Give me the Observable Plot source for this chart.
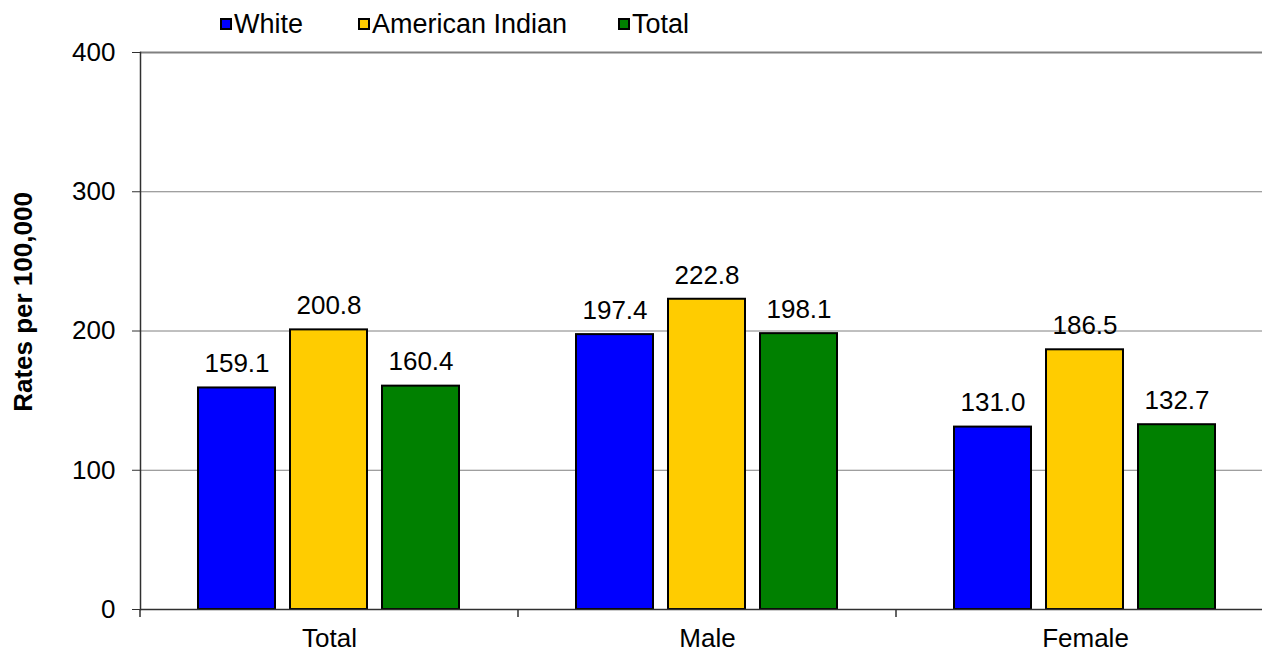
<!DOCTYPE html>
<html>
<head>
<meta charset="utf-8">
<script src="https://cdn.jsdelivr.net/npm/d3@7"></script>
<script src="https://cdn.jsdelivr.net/npm/@observablehq/plot@0.6"></script>
<style>
  html, body { margin: 0; padding: 0; background: #fff; }
  #wrap { position: relative; width: 1262px; height: 652px; overflow: hidden; font-family: "Liberation Sans", Arial, sans-serif; }
  #legend { position: relative; width: 1262px; height: 30px; }
  .item { position: absolute; top: 0; height: 48px; display: flex; align-items: center; font-size: 27px; color: #000; white-space: nowrap; }
  .sw { width: 12px; height: 12px; box-sizing: border-box; border: 2px solid #000; margin-right: 2px; }
  #chart svg { display: block; }
</style>
</head>
<body>
<div id="wrap">
  <div id="legend"></div>
  <div id="chart"></div>
</div>
<script>
// ---- data ----
const categories = ["Total", "Male", "Female"];
const seriesNames = ["White", "American Indian", "Total"];
const whiteValues = [159.1, 197.4, 131.0];
const americanIndianValues = [200.8, 222.8, 186.5];
const totalValues = [160.4, 198.1, 132.7];
const yTicks = [0, 100, 200, 300, 400];
const colors = ["#0000FF", "#FFCC00", "#008000"];
const yLabel = "Rates per 100,000";

const seriesValues = [whiteValues, americanIndianValues, totalValues];
const data = categories.flatMap((cat, i) =>
  seriesNames.map((s, j) => ({ cat, series: s, value: seriesValues[j][i] }))
);

// ---- legend ----
const legendLeft = [220, 358, 618];
const legend = document.getElementById("legend");
seriesNames.forEach((s, j) => {
  const item = document.createElement("div");
  item.className = "item";
  item.style.left = legendLeft[j] + "px";
  const sw = document.createElement("div");
  sw.className = "sw";
  sw.style.background = colors[j];
  const t = document.createElement("span");
  t.textContent = s;
  item.appendChild(sw);
  item.appendChild(t);
  legend.appendChild(item);
});

// ---- chart ----
const chart = Plot.plot({
  width: 1262,
  height: 622,
  marginLeft: 140,
  marginRight: -12,
  marginTop: 22,
  marginBottom: 43,
  style: { fontFamily: "Liberation Sans, Arial, sans-serif", color: "#000", background: "#fff" },
  fx: { domain: categories, padding: 0, label: null },
  x: { domain: seriesNames, paddingInner: 0.161, paddingOuter: 0.618, axis: null },
  y: { domain: [0, 400], label: null },
  color: { domain: seriesNames, range: colors },
  marks: [
    Plot.ruleY(yTicks.slice(1, -1), { stroke: "#808080", strokeWidth: 1 }),
    Plot.ruleY(yTicks.slice(-1), { stroke: "#808080", strokeWidth: 2 }),
    Plot.barY(data, { fx: "cat", x: "series", y: "value", fill: "series", stroke: "#000", strokeWidth: 2 }),
    Plot.text(data, { fx: "cat", x: "series", y: "value", text: d => d.value.toFixed(1), dy: -24, fontSize: 26, fill: "#000" }),
    Plot.ruleY([0], { stroke: "#303030", strokeWidth: 1.5 }),
    Plot.frame({ anchor: "left", facetAnchor: "left", stroke: "#303030", strokeWidth: 1.5 }),
    Plot.axisY({ ticks: yTicks, tickSize: 8, tickPadding: 17, fontSize: 26, label: null, stroke: "#303030" }),
    Plot.axisFx({ anchor: "bottom", tickSize: 0, tickPadding: 19, fontSize: 26, label: null }),
    Plot.text([yLabel], { frameAnchor: "left", facetAnchor: "left", textAnchor: "middle", rotate: -90, dx: -117, dy: -29, fontSize: 26, fontWeight: "bold", fill: "#000" })
  ]
});
document.getElementById("chart").appendChild(chart);

// boundary tick marks below the category axis, placed with the fx scale
const fx = chart.scale("fx");
const y = chart.scale("y");
const svg = d3.select(chart);
const y0 = y.apply(0);
categories.forEach(c => {
  const xb = fx.apply(c);
  svg.append("line")
    .attr("x1", xb).attr("x2", xb)
    .attr("y1", y0).attr("y2", y0 + 8)
    .attr("stroke", "#303030").attr("stroke-width", 1.5);
});
</script>
</body>
</html>
